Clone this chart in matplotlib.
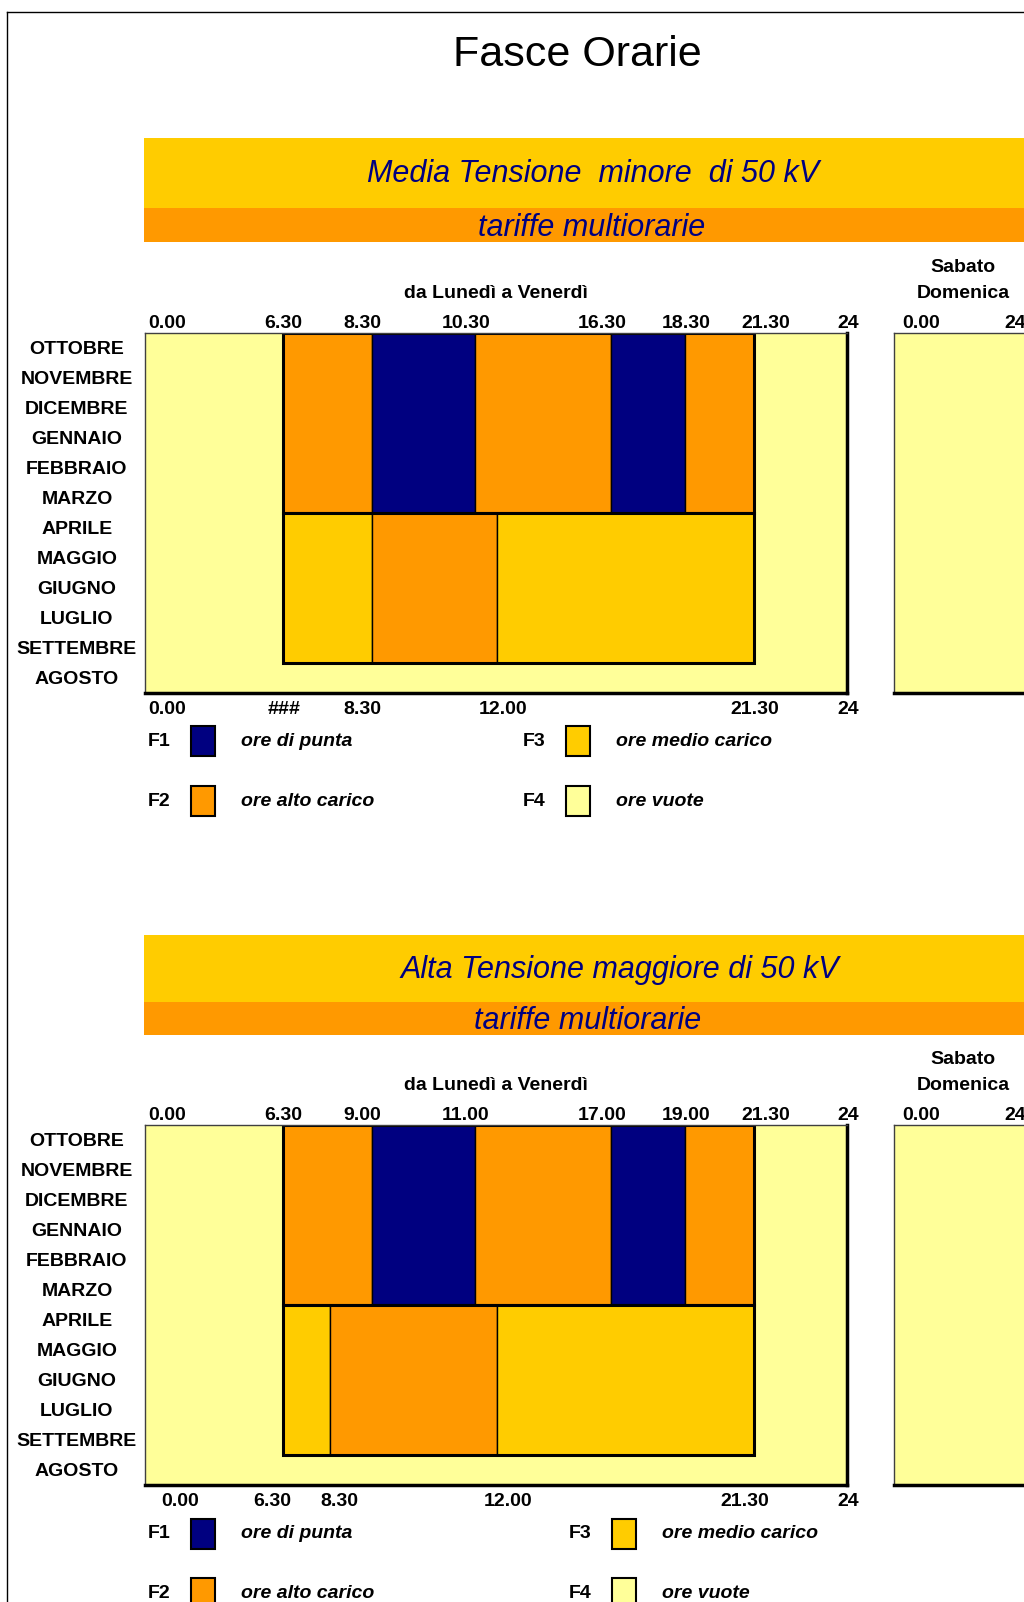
import numpy as np
import matplotlib
matplotlib.use("Agg")
import matplotlib.pyplot as plt
from matplotlib.patches import Rectangle
from matplotlib.lines import Line2D
from matplotlib.transforms import ScaledTranslation

plt.rcParams['font.family'] = ['Liberation Sans', 'DejaVu Sans']

W, H = 1024, 1602

colori = {"F1": "#000080", "F2": "#FF9900", "F3": "#FFCC00", "F4": "#FFFF99"}
descrizioni = {"F1": "ore di punta", "F2": "ore alto carico",
               "F3": "ore medio carico", "F4": "ore vuote"}

mesi_inverno = ["OTTOBRE", "NOVEMBRE", "DICEMBRE", "GENNAIO", "FEBBRAIO", "MARZO"]
mesi_estate = ["APRILE", "MAGGIO", "GIUGNO", "LUGLIO", "SETTEMBRE"]
mesi = mesi_inverno + mesi_estate + ["AGOSTO"]

# Media tensione < 50 kV : (inizio, fine, fascia) in ore decimali
mt_inverno = [(6.5, 8.5, "F2"), (8.5, 10.5, "F1"), (10.5, 16.5, "F2"),
              (16.5, 18.5, "F1"), (18.5, 21.5, "F2")]
mt_estate = [(6.5, 8.5, "F3"), (8.5, 12.0, "F2"), (12.0, 21.5, "F3")]
mt_tick_alto = [0, 6.5, 8.5, 10.5, 16.5, 18.5, 21.5, 24]
mt_etich_alto = ["0.00", "6.30", "8.30", "10.30", "16.30", "18.30", "21.30", "24"]
mt_tick_basso = [0, 6.5, 8.5, 12, 21.5, 24]
mt_etich_basso = ["0.00", "###", "8.30", "12.00", "21.30", "24"]

# Alta tensione > 50 kV
at_inverno = [(6.5, 9.0, "F2"), (9.0, 11.0, "F1"), (11.0, 17.0, "F2"),
              (17.0, 19.0, "F1"), (19.0, 21.5, "F2")]
at_estate = [(6.5, 8.5, "F3"), (8.5, 12.0, "F2"), (12.0, 21.5, "F3")]
at_tick_alto = [0, 6.5, 9, 11, 17, 19, 21.5, 24]
at_etich_alto = ["0.00", "6.30", "9.00", "11.00", "17.00", "19.00", "21.30", "24"]
at_tick_basso = [0, 6.5, 8.5, 12, 21.5, 24]
at_etich_basso = ["0.00", "6.30", "8.30", "12.00", "21.30", "24"]

# larghezza delle colonne del foglio (px dal bordo sinistro del riquadro)
colonne_mt = [0, 138, 227, 330, 352, 466, 540, 609, 702]
colonne_at = [0, 138, 185, 227, 330, 352, 466, 540, 609, 702]

# allineamento delle etichette nelle celle (px)
sposta_alto = [3, 0, -10, -9, -9, 1, 12, 1]
sposta_basso_mt = [3, 1, -10, 6, 1, 1]
sposta_basso_at = [16, -11, 9, 11, -9, 1]

fig = plt.figure(figsize=(W / 100, H / 100), dpi=100)


def box(x0, y0, x1, y1):
    return [x0 / W, 1 - y1 / H, (x1 - x0) / W, (y1 - y0) / H]


def rett(x0, y0, x1, y1, **kw):
    fig.add_artist(Rectangle((x0 / W, 1 - y1 / H), (x1 - x0) / W, (y1 - y0) / H,
                             transform=fig.transFigure, **kw))


def testo(x, y, s, **kw):
    fig.text(x / W, 1 - y / H, s, ha=kw.pop("ha", "center"), va="center", **kw)


def bordi(ax):
    for lato in ("left", "top"):
        ax.spines[lato].set_linewidth(1)
        ax.spines[lato].set_color("#404040")
    for lato in ("right", "bottom"):
        ax.spines[lato].set_linewidth(2.5)
        ax.spines[lato].set_color("black")


def sposta(etichette, spostamenti):
    for t, dx in zip(etichette, spostamenti):
        t.set_transform(t.get_transform() + ScaledTranslation(dx / 100, 0, fig.dpi_scale_trans))


def pannello(top, banner, titolo, pos_titolo, pos_sotto, inverno, estate, colonne,
             tick_alto, etich_alto, tick_basso, etich_basso, sposta_basso):
    y_ban, y_mid, y_end = banner
    rett(144, y_ban, 1030, y_mid, color="#FFCC00", lw=0)
    rett(144, y_mid, 1030, y_end, color="#FF9900", lw=0)
    testo(*pos_titolo, titolo, fontsize=22, style="italic", color="#000080")
    testo(*pos_sotto, "tariffe multiorarie", fontsize=22, style="italic", color="#000080")

    bottom = top + 360
    testo(496, top - 39, "da Lunedì a Venerdì", fontsize=14, fontweight="bold")
    testo(963, top - 65, "Sabato", fontsize=14, fontweight="bold")
    testo(963, top - 39, "Domenica", fontsize=14, fontweight="bold")

    ax = fig.add_axes(box(145, top, 847, bottom))
    ore = sorted({0, 24} | {a for a, b, f in inverno + estate} | {b for a, b, f in inverno + estate})
    pos = np.array(colonne) / colonne[-1]
    ax.set_xscale("function", functions=(lambda h: np.interp(h, ore, pos),
                                          lambda u: np.interp(u, pos, ore)))
    ax.set_xlim(0, 24)
    y = np.arange(len(mesi))
    ax.set_ylim(len(mesi) - 0.5, -0.5)
    ax.barh(y, 24, left=0, height=1, color=colori["F4"], linewidth=0)
    for gruppo, fasce in ((mesi_inverno, inverno), (mesi_estate, estate)):
        n = len(gruppo)
        yc = mesi.index(gruppo[0]) + (n - 1) / 2
        for a, b, f in fasce:
            ax.barh(yc, b - a, left=a, height=n, color=colori[f],
                    edgecolor="black", linewidth=1)
        a0 = min(a for a, b, f in fasce)
        b1 = max(b for a, b, f in fasce)
        ax.barh(yc, b1 - a0, left=a0, height=n, fill=False, edgecolor="black", linewidth=2.2)
    bordi(ax)

    ax.set_yticks(y, mesi, fontsize=14, fontweight="bold")
    for t in ax.get_yticklabels():
        t.set_ha("center")
    ax.tick_params(axis="y", length=0, pad=49)

    ax.xaxis.remove_overlapping_locs = False
    ax.set_xticks(tick_basso, etich_basso, fontsize=14, fontweight="bold")
    ax.set_xticks(tick_alto, etich_alto, minor=True, fontsize=14, fontweight="bold")
    ax.tick_params(axis="x", which="major", length=0, pad=6)
    ax.tick_params(axis="x", which="minor", length=0, pad=1, top=True, labeltop=True,
                   bottom=False, labelbottom=False)
    ax.get_xticklabels()[0].set_ha("left")
    ax.xaxis.get_minorticklabels()[0].set_ha("left")
    sposta(ax.get_xticklabels(), sposta_basso)
    sposta(ax.xaxis.get_minorticklabels(), sposta_alto)

    # Sabato / Domenica: tutto F4
    ax2 = fig.add_axes(box(894, top, 1034, bottom))
    ax2.set_xlim(0, 24)
    ax2.set_ylim(len(mesi) - 0.5, -0.5)
    ax2.barh(y, 24, left=0, height=1, color=colori["F4"], linewidth=0)
    bordi(ax2)
    ax2.set_xticks([])
    ax2.set_yticks([])
    tr = ax2.get_xaxis_transform()
    ax2.annotate("0.00", xy=(0, 1), xycoords=tr, xytext=(6, 1), textcoords="offset points",
                 ha="left", va="bottom", fontsize=14, fontweight="bold")
    ax2.annotate("24", xy=(24, 1), xycoords=tr, xytext=(-6, 1), textcoords="offset points",
                 ha="right", va="bottom", fontsize=14, fontweight="bold")


def leggenda(righe, col2):
    x_lab2, x_box2, x_txt2 = col2
    colonne_leg = [(159, 191, 241), (x_lab2, x_box2, x_txt2)]
    voci = [["F1", "F2"], ["F3", "F4"]]
    for (x_lab, x_box, x_txt), fasce in zip(colonne_leg, voci):
        for yr, f in zip(righe, fasce):
            testo(x_lab, yr, f, fontsize=14, fontweight="bold")
            rett(x_box, yr - 15, x_box + 24, yr + 15, facecolor=colori[f],
                 edgecolor="black", lw=1.5)
            testo(x_txt, yr, descrizioni[f], ha="left", fontsize=14,
                  fontweight="bold", style="italic")


# cornice esterna
fig.add_artist(Line2D([7 / W, 7 / W], [0, 1 - 12 / H], color="black", lw=1,
                      transform=fig.transFigure))
fig.add_artist(Line2D([7 / W, 1], [1 - 12 / H, 1 - 12 / H], color="black", lw=1,
                      transform=fig.transFigure))

testo(577, 55, "Fasce Orarie", fontsize=31)

pannello(333, (138, 208, 242), "Media Tensione  minore  di 50 kV", (593, 174), (592, 228),
         mt_inverno, mt_estate, colonne_mt,
         mt_tick_alto, mt_etich_alto, mt_tick_basso, mt_etich_basso, sposta_basso_mt)
leggenda((741, 801), (534, 566, 616))

pannello(1125, (935, 1002, 1035), "Alta Tensione maggiore di 50 kV", (620, 970), (588, 1021),
         at_inverno, at_estate, colonne_at,
         at_tick_alto, at_etich_alto, at_tick_basso, at_etich_basso, sposta_basso_at)
leggenda((1534, 1593), (580, 612, 662))

fig.savefig("out.png", dpi=100)
